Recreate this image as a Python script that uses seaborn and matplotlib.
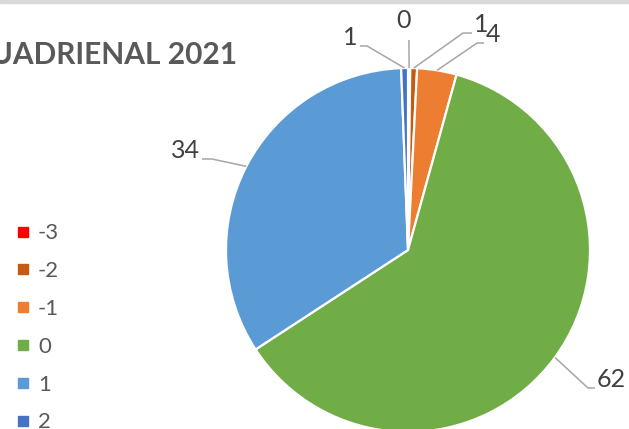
import numpy as np
import matplotlib.pyplot as plt
import seaborn as sns
from matplotlib.lines import Line2D
from matplotlib.patches import Rectangle

# data (shares per score, labels show rounded values)
categories = ["-3", "-2", "-1", "0", "1", "2"]
values = [0.2, 0.6, 3.5, 61.5, 33.6, 0.6]
colors = ["#FF0000", "#C55A11", "#ED7D31", "#70AD47", "#5B9BD5", "#4472C4"]
title = "CUADRIENAL 2021"

# label layout in pie-radius units: leader elbow, leader end, text side
label_elbow = [(0.005, 1.154), (0.302, 1.192), (0.379, 1.137),
               (0.989, -0.758), (-1.077, 0.50), (-0.225, 1.121)]
label_end = [(0.005, 1.154), (0.352, 1.192), (0.418, 1.137),
             (1.027, -0.758), (-1.132, 0.50), (-0.264, 1.121)]
label_ha = ["center", "left", "left", "left", "right", "right"]

sns.set_theme(style="white")
plt.rcParams["font.family"] = ["Lato", "DejaVu Sans"]

W, H = 629, 429
fig = plt.figure(figsize=(W / 100, H / 100), dpi=100)
cx, cy, r = 408, 250, 182
ax = fig.add_axes([(cx - r) / W, (H - cy - r) / H, 2 * r / W, 2 * r / H])

wedges, _ = ax.pie(values, colors=sns.color_palette(colors), startangle=90,
                   counterclock=False, radius=1,
                   wedgeprops=dict(edgecolor="white", linewidth=1.6))
ax.set_xlim(-1, 1)
ax.set_ylim(-1, 1)
ax.set_aspect("equal")
ax.axis("off")

line_col = "#A6A6A6"
text_col = "#404040"
for w, v, elb, end, ha in zip(wedges, values, label_elbow, label_end, label_ha):
    mid = np.deg2rad((w.theta1 + w.theta2) / 2)
    ax0, ay0 = np.cos(mid), np.sin(mid)
    ax.plot([ax0, elb[0], end[0]], [ay0, elb[1], end[1]], color=line_col,
            lw=1.1, clip_on=False, solid_capstyle="butt")
    if ha == "center":
        tx, ty = end[0] - 0.03, end[1] + 0.065
    elif ha == "left":
        tx, ty = end[0] + 0.01, end[1] + 0.005
    else:
        tx, ty = end[0] - 0.012, end[1] + 0.005
    ax.text(tx, ty, f"{v:.0f}", ha=ha, va="baseline", fontsize=18,
            color=text_col, clip_on=False)

fig.text(237 / W, 1 - 64 / H, title, ha="right", va="baseline", fontsize=21.5,
         fontweight="bold", color="#595959")

handles = [Line2D([], [], marker="s", linestyle="", markersize=6.5, color=c)
           for c in colors]
fig.legend(handles, categories, loc="upper left",
           bbox_to_anchor=(14 / W, 1 - 223.5 / H), frameon=False, fontsize=16,
           labelspacing=0.8, handlelength=0.8, handletextpad=0.28,
           borderpad=0, borderaxespad=0, labelcolor="#595959")

fig.patches.append(Rectangle((0, 1 - 3 / H), 1, 3 / H, transform=fig.transFigure,
                             color="#D9D9D9", zorder=0))

fig.savefig("out.png", dpi=100)
